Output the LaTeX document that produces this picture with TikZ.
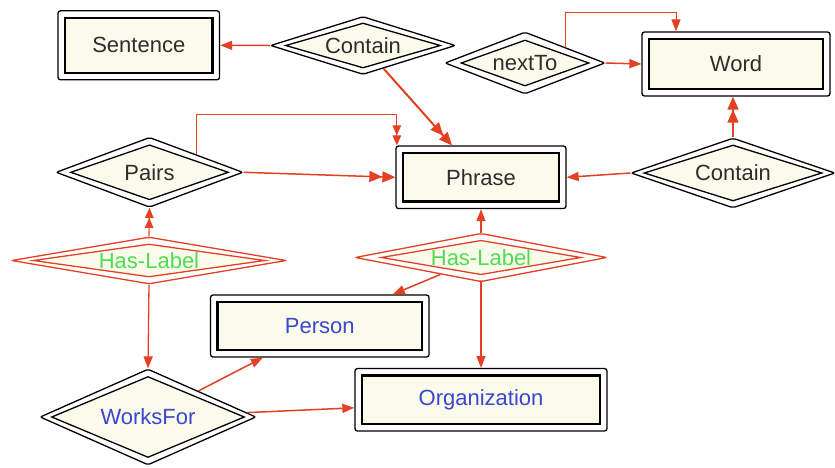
\documentclass[tikz,border=0pt]{standalone}
\usepackage{fontspec}
\setmainfont{Liberation Sans}
\usetikzlibrary{shapes.geometric,arrows.meta}

\definecolor{erred}{RGB}{228,64,36}
\definecolor{ercream}{RGB}{251,251,236}
\definecolor{erblue}{RGB}{58,70,205}
\definecolor{ergreen}{RGB}{80,220,80}
\definecolor{ertext}{RGB}{45,45,45}

\tikzset{
  % entity: thin rounded outer frame with a heavy inner box
  entity/.style={shape=rectangle, draw=black, line width=1.3pt, rounded corners=2.5pt,
    fill=white, inner sep=0pt,
    path picture={\draw[line width=2.2pt, sharp corners, fill=ercream]
      ([shift={(7pt,-7pt)}]path picture bounding box.north west) rectangle
      ([shift={(-7pt,7pt)}]path picture bounding box.south east);}},
  % relation: double diamond; #1/#2 = horizontal/vertical inset, #3 = line colour
  relation/.style n args={3}{shape=diamond, draw=#3, line width=1.3pt, rounded corners=2pt,
    fill=white, inner sep=0pt,
    path picture={\draw[draw=#3, line width=1.3pt, sharp corners, fill=ercream]
      ([xshift=#1]path picture bounding box.west) --
      ([yshift=-#2]path picture bounding box.north) --
      ([xshift=-#1]path picture bounding box.east) --
      ([yshift=#2]path picture bounding box.south) -- cycle;}},
  link/.style={draw=erred, line width=1.5pt},
  thinlink/.style={draw=erred, line width=1pt},
  arr1/.style={-{Triangle[length=12pt,width=9pt]}},
  arr2/.style={-{Triangle[length=13pt,width=11pt]Triangle[length=13pt,width=11pt]}},
  arr2s/.style={-{Triangle[length=10pt,width=8.5pt]Triangle[length=10pt,width=8.5pt]}},
}

\begin{document}
\begin{tikzpicture}[x=1pt,y=-1pt,font=\fontsize{22}{26}\selectfont]
\useasboundingbox (0,0) rectangle (835,467);
\fill[white] (0,0) rectangle (835,467);

% entities
\node[entity, text=ertext, minimum width=161.5pt, minimum height=69pt] (sentence) at (138.8,45.3) {Sentence};
\node[entity, text=ertext, minimum width=188pt, minimum height=64pt] (word) at (736,64) {Word};
\node[entity, text=ertext, minimum width=170pt, minimum height=62.5pt] (phrase) at (481,177.3) {Phrase};
\node[entity, text=erblue, minimum width=218.5pt, minimum height=62pt] (person) at (319.8,326) {Person};
\node[entity, text=erblue, minimum width=252pt, minimum height=62.5pt] (org) at (481,399.8) {Organization};

% relations
\node[relation={15pt}{6.5pt}{black}, minimum width=185pt, minimum height=58pt,
  label={[text=ertext]center:Contain}] (contain1) at (363,45.5) {};
\node[relation={16pt}{8pt}{black}, minimum width=160pt, minimum height=62pt,
  label={[text=ertext]center:nextTo}] (nextto) at (525,63) {};
\node[relation={13pt}{7pt}{black}, minimum width=204pt, minimum height=70pt,
  label={[text=ertext]center:Contain}] (contain2) at (733,173) {};
\node[relation={14.5pt}{7.5pt}{black}, minimum width=187pt, minimum height=70pt,
  label={[text=ertext]center:Pairs}] (pairs) at (149.5,172.3) {};
\node[relation={21.5pt}{7pt}{erred}, minimum width=275pt, minimum height=47pt,
  label={[text=ergreen]center:Has-Label}] (haslabel1) at (149,260.5) {};
\node[relation={26pt}{7pt}{erred}, minimum width=252pt, minimum height=48.5pt,
  label={[text=ergreen]center:Has-Label}] (haslabel2) at (481,257.5) {};
\node[relation={11.5pt}{7.5pt}{black}, minimum width=216pt, minimum height=96pt,
  label={[text=erblue]center:WorksFor}] (worksfor) at (148,417) {};

% connectors
\draw[link, arr1] (contain1.west) -- (sentence.east);
\draw[link, line width=2pt, arr2] (contain1) -- ([xshift=-29pt]phrase.north);
\draw[link, arr1] (nextto.east) -- (word.west);
\draw[thinlink, arr1] (nextto.north east) |- ([xshift=-60pt,yshift=19pt]word.north) -- ([xshift=-60pt]word.north);
\draw[link, arr2] (contain2.north) -- (word.south -| contain2.north);
\draw[link, arr1] (contain2.west) -- (phrase.east);
\draw[link, arr2] (pairs.east) -- (phrase.west);
\draw[thinlink, arr2s] (pairs.north east) |- ([xshift=1.5pt,yshift=31pt]phrase.north west) -- ([xshift=1.5pt]phrase.north west);
\draw[thinlink, line width=1.2pt, arr2s] (haslabel1.north) -- (pairs.south);
\draw[link, line width=1.3pt, arr1] (haslabel1.south) -- (worksfor.north);
\draw[link, line width=1.3pt, arr1] (haslabel2.north) -- (phrase.south);
\draw[link, line width=1.5pt, arr1] (haslabel2) -- ([xshift=73pt]person.north);
\draw[link, line width=1.3pt, arr1] (haslabel2.south) -- (org.north);
\draw[link, arr1] (worksfor) -- ([xshift=-57pt]person.south);
\draw[link, arr1] (worksfor) -- ([yshift=-8pt]org.west);
\end{tikzpicture}
\end{document}
